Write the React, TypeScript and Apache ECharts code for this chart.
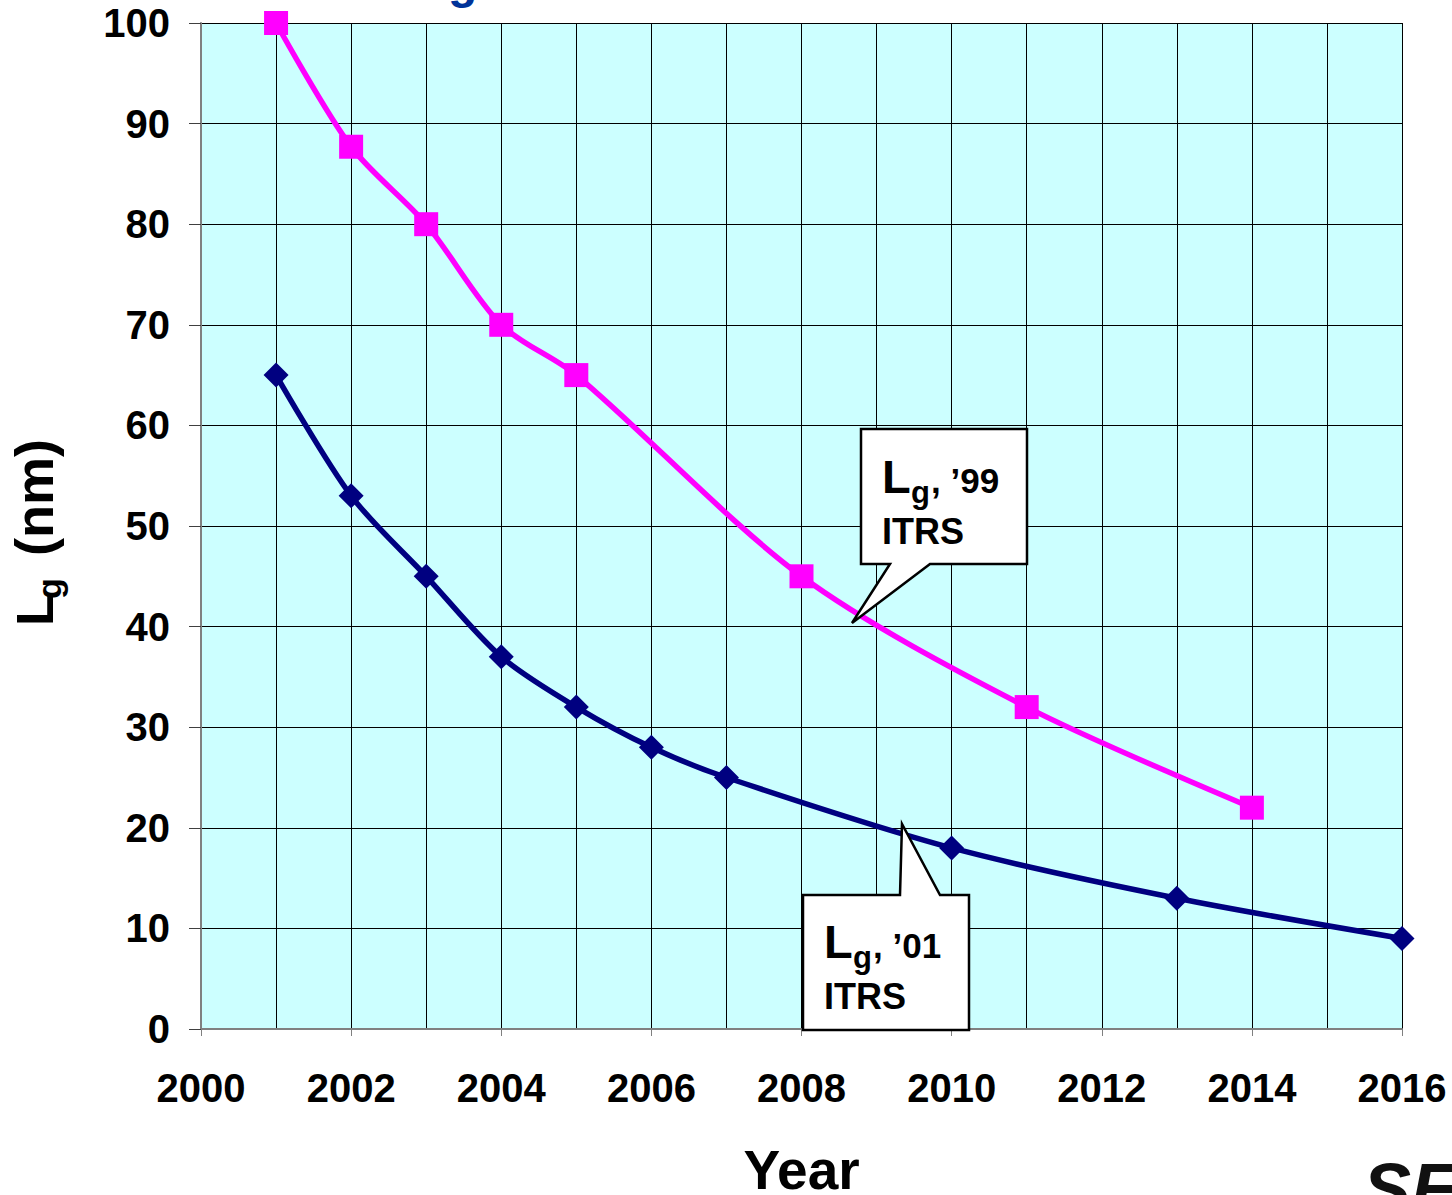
import React, { useEffect, useRef } from "react";
import * as echarts from "echarts";

const FONT = "'Liberation Sans', Arial, Helvetica, sans-serif";

// '99 ITRS roadmap
const years99 = [2001, 2002, 2003, 2004, 2005, 2008, 2011, 2014];
const lg99 = [100, 87.7, 80, 70, 65, 45, 32, 22];

// '01 ITRS roadmap
const years01 = [2001, 2002, 2003, 2004, 2005, 2006, 2007, 2010, 2013, 2016];
const lg01 = [65, 53, 45, 37, 32, 28, 25, 18, 13, 9];

const xTickLabels = ["2000", "2002", "2004", "2006", "2008", "2010", "2012", "2014", "2016"];
const yTickLabels = ["0", "10", "20", "30", "40", "50", "60", "70", "80", "90", "100"];

function callout(
  points: number[][],
  tx: number,
  ty: number,
  year: string
) {
  return [
    {
      type: "polygon",
      shape: { points },
      style: { fill: "#ffffff", stroke: "#000000", lineWidth: 2.5 },
      z: 100,
    },
    {
      type: "text",
      x: tx,
      y: ty,
      style: { text: "L", font: `bold 47px ${FONT}`, fill: "#000", verticalAlign: "middle" },
      z: 101,
    },
    {
      type: "text",
      x: tx + 29,
      y: ty + 16,
      style: { text: "g", font: `bold 31px ${FONT}`, fill: "#000", verticalAlign: "middle" },
      z: 101,
    },
    {
      type: "text",
      x: tx + 49,
      y: ty + 4,
      style: { text: ", \u2019" + year, font: `bold 35px ${FONT}`, fill: "#000", verticalAlign: "middle" },
      z: 101,
    },
    {
      type: "text",
      x: tx,
      y: ty + 55,
      style: { text: "ITRS", font: `bold 36px ${FONT}`, fill: "#000", verticalAlign: "middle" },
      z: 101,
    },
  ];
}

export default function App() {
  const ref = useRef<HTMLDivElement>(null);

  useEffect(() => {
    if (!ref.current) return;
    const chart = echarts.init(ref.current, null, { renderer: "svg" });

    const option = {
      animation: false,
      backgroundColor: "#ffffff",
      grid: {
        left: 201,
        right: 50,
        top: 23,
        bottom: 166,
        outerBoundsMode: "none",
        containLabel: false,
        show: true,
        backgroundColor: "#CCFFFF",
        borderWidth: 0,
      },
      xAxis: {
        type: "value",
        min: 2000,
        max: 2016,
        interval: 2,
        name: "Year",
        nameLocation: "middle",
        nameGap: 141,
        nameTextStyle: {
          fontSize: 55,
          lineHeight: 44,
          fontWeight: "bold",
          fontFamily: FONT,
          color: "#000",
          verticalAlign: "middle",
        },
        axisLine: { show: true, onZero: false, lineStyle: { color: "#808080", width: 2 } },
        axisTick: { show: true, length: 7, lineStyle: { color: "#808080", width: 1 } },
        axisLabel: {
          fontSize: 40,
          fontWeight: "bold",
          fontFamily: FONT,
          color: "#000",
          margin: 59,
          verticalAlign: "middle",
          formatter: (v: number) => {
            const s = String(v);
            return xTickLabels.indexOf(s) >= 0 ? s : "";
          },
        },
        splitLine: { show: true, lineStyle: { color: "#000", width: 1 } },
        minorTick: { show: false, splitNumber: 2 },
        minorSplitLine: { show: true, lineStyle: { color: "#000", width: 1 } },
      },
      yAxis: {
        type: "value",
        min: 0,
        max: 100,
        interval: 10,
        axisLine: { show: true, onZero: false, lineStyle: { color: "#808080", width: 2 } },
        axisTick: { show: true, length: 12, lineStyle: { color: "#404040", width: 1 } },
        axisLabel: {
          fontSize: 40,
          fontWeight: "bold",
          fontFamily: FONT,
          color: "#000",
          margin: 31,
          formatter: (v: number) => {
            const s = String(v);
            return yTickLabels.indexOf(s) >= 0 ? s : "";
          },
        },
        splitLine: { show: true, lineStyle: { color: "#000", width: 1 } },
      },
      series: [
        {
          name: "Lg '99 ITRS",
          type: "line",
          data: years99.map((y, i) => [y, lg99[i]]),
          smooth: 0.3,
          clip: false,
          symbol: "rect",
          symbolSize: 24,
          lineStyle: { color: "#FF00FF", width: 5.5 },
          itemStyle: { color: "#FF00FF" },
          z: 5,
        },
        {
          name: "Lg '01 ITRS",
          type: "line",
          data: years01.map((y, i) => [y, lg01[i]]),
          smooth: 0.3,
          clip: false,
          symbol: "diamond",
          symbolSize: 25,
          lineStyle: { color: "#000080", width: 5.5 },
          itemStyle: { color: "#000080" },
          z: 5,
        },
      ],
      graphic: [
        // y-axis title: L_g (nm), rotated
        {
          type: "group",
          x: 53,
          y: 623,
          rotation: Math.PI / 2,
          children: [
            {
              type: "text",
              x: -3,
              y: -18,
              style: { text: "L", font: `bold 52px ${FONT}`, fill: "#000", verticalAlign: "middle" },
            },
            {
              type: "text",
              x: 24,
              y: -4,
              style: { text: "g", font: `bold 34px ${FONT}`, fill: "#000", verticalAlign: "middle" },
            },
            {
              type: "text",
              x: 67,
              y: -19,
              style: { text: "(nm)", font: `bold 54px ${FONT}`, fill: "#000", verticalAlign: "middle" },
            },
          ],
        },
        // cut-off title fragment at the top
        {
          type: "text",
          x: 448,
          y: -19,
          style: { text: "g", font: `bold 48px ${FONT}`, fill: "#003399", verticalAlign: "middle" },
        },
        // cut-off logo fragment bottom-right
        {
          type: "text",
          x: 1363,
          y: 1189,
          style: { text: "SEMI", font: `italic 900 72px ${FONT}`, fill: "#111", verticalAlign: "middle" },
        },
        ...callout(
          [
            [861, 429],
            [1027, 429],
            [1027, 564],
            [930, 564],
            [852, 623],
            [890, 564],
            [861, 564],
          ],
          882,
          476,
          "99"
        ),
        ...callout(
          [
            [803, 895],
            [900, 895],
            [902, 824],
            [940, 895],
            [969, 895],
            [969, 1030],
            [803, 1030],
          ],
          824,
          941,
          "01"
        ),
      ],
    };

    chart.setOption(option as any);
    return () => chart.dispose();
  }, []);

  return (
    <div
      ref={ref}
      style={{ position: "absolute", left: 0, top: 0, width: 1452, height: 1195 }}
    />
  );
}
